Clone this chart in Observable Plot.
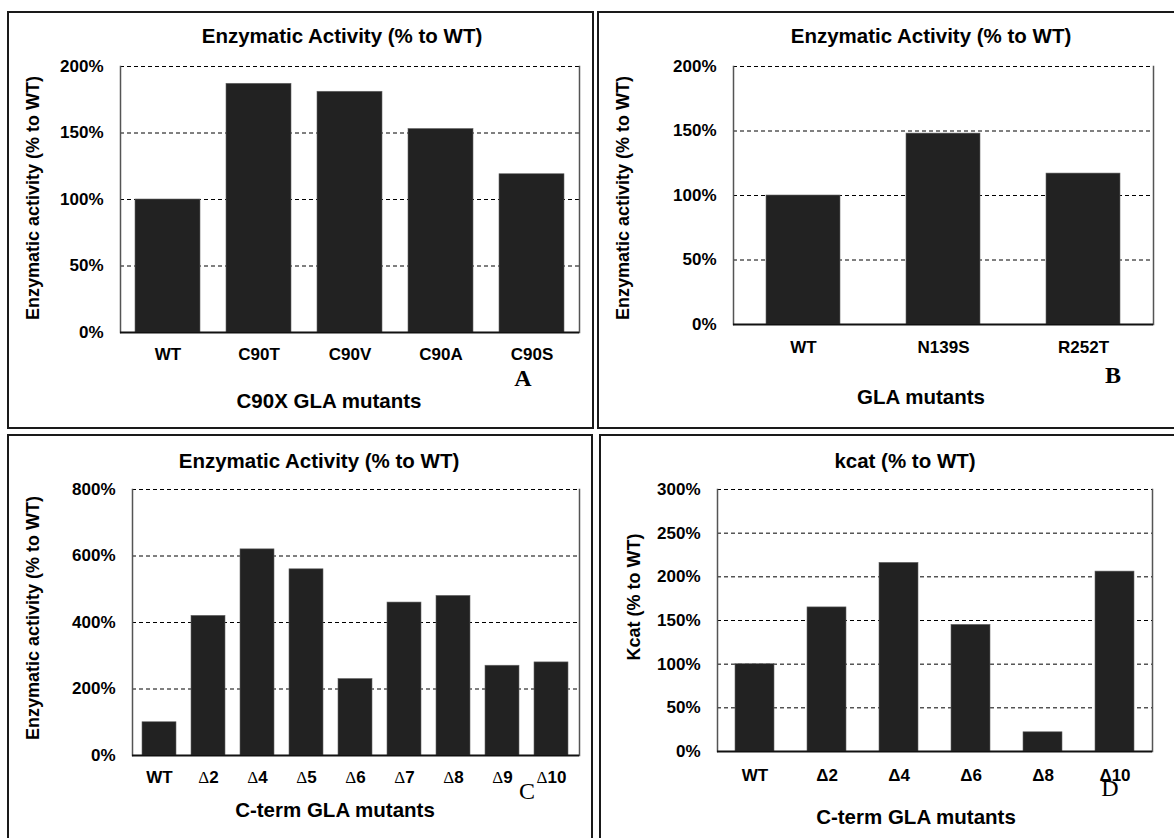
<!DOCTYPE html>
<html><head><meta charset="utf-8">
<script src="https://cdn.jsdelivr.net/npm/d3@7"></script>
<script src="https://cdn.jsdelivr.net/npm/@observablehq/plot@0.6"></script>
<style>
body{margin:0;background:#fff;}
#page{position:relative;width:1174px;height:838px;overflow:hidden;font-family:"Liberation Sans",Arial,sans-serif;background:#fff;}
.box{position:absolute;border:2px solid #1a1a1a;box-sizing:border-box;}
.t{position:absolute;transform:translate(-50%,-50%);white-space:nowrap;font-weight:bold;line-height:1;color:#000;}
.yl{transform:translate(-50%,-50%) rotate(-90deg);}
.letter{font-family:"Liberation Serif","Times New Roman",serif;font-size:24px;}
</style></head><body><div id="page"></div>
<script>
// ---- data ----
const mutantsA = ["WT", "C90T", "C90V", "C90A", "C90S"];
const activityA = [100, 187, 181, 153, 119];
const yTicksA = [0, 50, 100, 150, 200];

const mutantsB = ["WT", "N139S", "R252T"];
const activityB = [100, 148, 117];
const yTicksB = [0, 50, 100, 150, 200];

const mutantsC = ["WT", "Δ2", "Δ4", "Δ5", "Δ6", "Δ7", "Δ8", "Δ9", "Δ10"];
const activityC = [100, 420, 620, 560, 230, 460, 480, 270, 280];
const yTicksC = [0, 200, 400, 600, 800];

const mutantsD = ["WT", "Δ2", "Δ4", "Δ6", "Δ8", "Δ10"];
const kcatD = [100, 165, 216, 145, 22, 206];
const yTicksD = [0, 50, 100, 150, 200, 250, 300];

// ---- layout ----
const panels = [
  {names: mutantsA, values: activityA, yTicks: yTicksA,
   box: [7, 11, 594, 429], plotArea: [120, 66, 579, 332], pad: 0.29, xPad: 15,
   title: "Enzymatic Activity (% to WT)", titlePos: [342, 36],
   xLabel: "C90X GLA mutants", xLabelPos: [329, 401],
   yLabel: "Enzymatic activity (% to WT)", yLabelPos: [33, 198],
   letter: "A", letterPos: [523, 378], letterBold: true},
  {names: mutantsB, values: activityB, yTicks: yTicksB,
   box: [597, 11, 1190, 429], plotArea: [733, 66, 1153, 324], pad: 0.47, xPad: 16,
   title: "Enzymatic Activity (% to WT)", titlePos: [931, 36],
   xLabel: "GLA mutants", xLabelPos: [921, 397],
   yLabel: "Enzymatic activity (% to WT)", yLabelPos: [623, 198],
   letter: "B", letterPos: [1113, 375], letterBold: true},
  {names: mutantsC, values: activityC, yTicks: yTicksC, serifDelta: true,
   box: [7, 434, 593, 850], plotArea: [132, 489, 579, 755], pad: 0.30, xPad: 15,
   title: "Enzymatic Activity (% to WT)", titlePos: [319, 461],
   xLabel: "C-term GLA mutants", xLabelPos: [335, 810],
   yLabel: "Enzymatic activity (% to WT)", yLabelPos: [33, 618],
   letter: "C", letterPos: [527, 791], letterBold: false},
  {names: mutantsD, values: kcatD, yTicks: yTicksD,
   box: [599, 434, 1190, 850], plotArea: [717, 489, 1152, 751], pad: 0.46, xPad: 17,
   title: "kcat (% to WT)", titlePos: [905, 461],
   xLabel: "C-term GLA mutants", xLabelPos: [916, 817],
   yLabel: "Kcat (% to WT)", yLabelPos: [634, 597],
   letter: "D", letterPos: [1110, 788], letterBold: false}
];

const page = document.getElementById("page");

function addText(txt, pos, cls, style) {
  const d = document.createElement("div");
  d.className = "t " + (cls || "");
  d.textContent = txt;
  d.style.left = pos[0] + "px";
  d.style.top = pos[1] + "px";
  Object.assign(d.style, style || {});
  page.appendChild(d);
}

for (const cfg of panels) {
  const [bl, bt, br, bb] = cfg.box;
  const [x0, y0, x1, y1] = cfg.plotArea;
  const box = document.createElement("div");
  box.className = "box";
  Object.assign(box.style, {left: bl + "px", top: bt + "px", width: (br - bl) + "px", height: (bb - bt) + "px"});
  page.appendChild(box);

  const data = cfg.names.map((n, i) => ({name: n, value: cfg.values[i]}));
  const yMax = cfg.yTicks[cfg.yTicks.length - 1];
  const svg = Plot.plot({
    width: br - bl,
    height: bb - bt,
    marginLeft: x0 - bl,
    marginRight: br - x1,
    marginTop: y0 - bt,
    marginBottom: bb - y1,
    style: {fontFamily: "'Liberation Sans', Arial, sans-serif", fontSize: "17px", fontWeight: "bold", color: "#000", background: "transparent", overflow: "visible"},
    x: {domain: cfg.names, paddingInner: cfg.pad, paddingOuter: cfg.pad / 2, label: null},
    y: {domain: [0, yMax], label: null},
    marks: [
      Plot.gridY({ticks: cfg.yTicks.filter(d => d > 0), stroke: "#000", strokeOpacity: 1, strokeWidth: 1, strokeDasharray: "4,3"}),
      Plot.barY(data, {x: "name", y: "value", fill: "#222", stroke: "#666", strokeWidth: 0.6}),
      Plot.frame({anchor: "left", stroke: "#555", strokeWidth: 1.5}),
      Plot.frame({anchor: "right", stroke: "#555", strokeWidth: 1.5}),
      Plot.ruleY([0], {stroke: "#111", strokeWidth: 2}),
      Plot.axisY({ticks: cfg.yTicks, tickSize: 0, tickPadding: 17, tickFormat: d => d + "%", label: null, fill: "#000", fontSize: 17}),
      Plot.axisX({tickSize: 0, tickPadding: cfg.xPad, label: null, fill: "#000", fontSize: 17})
    ]
  });
  svg.style.position = "absolute";
  svg.style.left = bl + "px";
  svg.style.top = bt + "px";
  svg.style.maxWidth = "none";
  page.appendChild(svg);

  if (cfg.serifDelta) {
    d3.select(svg).selectAll('g[aria-label="x-axis tick label"] text').each(function () {
      const s = this.textContent;
      if (s.startsWith("Δ")) {
        const t = d3.select(this);
        t.text(null);
        t.append("tspan").attr("font-family", "'Liberation Serif', serif").attr("font-weight", "normal").text("Δ");
        t.append("tspan").text(s.slice(1));
      }
    });
  }

  addText(cfg.title, cfg.titlePos, "", {fontSize: "20.5px"});
  addText(cfg.xLabel, cfg.xLabelPos, "", {fontSize: "20.5px"});
  addText(cfg.yLabel, cfg.yLabelPos, "yl", {fontSize: "18px"});
  addText(cfg.letter, cfg.letterPos, "letter", {fontWeight: cfg.letterBold ? "bold" : "normal"});
}
</script></body></html>
